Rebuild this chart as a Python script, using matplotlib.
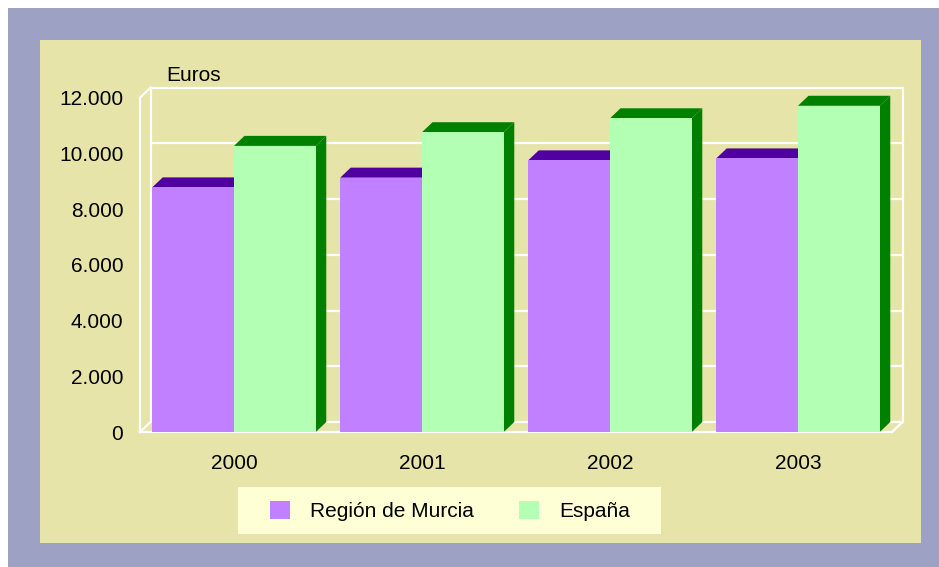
import matplotlib
matplotlib.use("Agg")
import matplotlib.pyplot as plt
from matplotlib.patches import Polygon, Rectangle
from matplotlib.ticker import FuncFormatter

# values (euros)
years = ["2000", "2001", "2002", "2003"]
murcia = [8780, 9130, 9750, 9820]
espana = [10270, 10760, 11260, 11710]
y_ticks = [0, 2000, 4000, 6000, 8000, 10000, 12000]
series_names = ["Región de Murcia", "España"]

plt.rcParams["font.family"] = ["Liberation Sans", "DejaVu Sans"]
FS = 15

W, H = 939, 567
fig = plt.figure(figsize=(W / 100, H / 100), dpi=100)
fig.patch.set_facecolor("white")

# outer frame and inner panel
fig.add_artist(Rectangle((8 / W, 0), 1, 1 - 8 / H, transform=fig.transFigure,
                         facecolor="#9da1c4", edgecolor="none", zorder=0))
fig.add_artist(Rectangle((40 / W, 24 / H), 881 / W, 503 / H, transform=fig.transFigure,
                         facecolor="#e6e4a8", edgecolor="none", zorder=0))

# pixel geometry of the pseudo-3D box
px_cat = 188.0          # px per category
px_val = 27.86 / 1000   # px per euro
DX, DY = 10.5, 10.0     # depth offset in px
left_px, zero_px = 140, 432
right_px = left_px + 4 * px_cat + DX
top_px = zero_px - 12000 * px_val - DY

ax = fig.add_axes([left_px / W, (H - zero_px) / H,
                   (right_px - left_px) / W, (zero_px - top_px) / H])
ax.set_xlim(0, (right_px - left_px) / px_cat)
ax.set_ylim(0, (zero_px - top_px) / px_val)
ax.patch.set_visible(False)
for s in ax.spines.values():
    s.set_visible(False)

dx = DX / px_cat
dy = DY / px_val
n = len(years)
wl = dict(color="white", lw=1.6, clip_on=False, zorder=1, solid_capstyle="projecting")

# back wall grid
for v in y_ticks:
    ax.plot([dx, n + dx], [v + dy, v + dy], **wl)
ax.plot([n + dx, n + dx], [dy, 12000 + dy], **wl)
# left wall
ax.plot([0, 0], [0, 12000], **wl)
ax.plot([dx, dx], [dy, 12000 + dy], **wl)
ax.plot([0, dx], [12000, 12000 + dy], **wl)
ax.plot([0, dx], [0, dy], **wl)
# floor
ax.plot([0, n], [0, 0], **wl)
ax.plot([n, n + dx], [0, dy], **wl)

# bars
w = 0.435
xs = list(range(n))
styles = [("#c080ff", "#5000a0"), ("#b3ffb3", "#008000")]
for k, vals in enumerate([murcia, espana]):
    front, dark = styles[k]
    lefts = [i + 0.5 - w + k * w for i in xs]
    bars = ax.bar(lefts, vals, width=w, align="edge", color=front,
                  edgecolor="none", zorder=3 + 2 * k, label=series_names[k])
    for x0, v in zip(lefts, vals):
        top = Polygon([(x0, v), (x0 + w, v), (x0 + w + dx, v + dy), (x0 + dx, v + dy)],
                      closed=True, facecolor=dark, edgecolor="none", zorder=2 + 2 * k)
        side = Polygon([(x0 + w, 0), (x0 + w, v), (x0 + w + dx, v + dy), (x0 + w + dx, dy)],
                       closed=True, facecolor=dark, edgecolor="none", zorder=2 + 2 * k)
        ax.add_patch(top)
        ax.add_patch(side)

# axes ticks
ax.set_xticks([i + 0.5 for i in xs])
ax.set_xticklabels(years)
ax.set_yticks(y_ticks)
ax.yaxis.set_major_formatter(FuncFormatter(lambda v, p: f"{int(v):,}".replace(",", ".")))
ax.tick_params(axis="both", length=0, labelsize=FS, colors="black")
ax.tick_params(axis="x", pad=15.5)
ax.tick_params(axis="y", pad=12)

fig.text(166 / W, 1 - 75.5 / H, "Euros", fontsize=FS, va="center", ha="left")

# legend box
fig.add_artist(Rectangle((238 / W, (H - 534) / H), 423 / W, 47 / H, transform=fig.transFigure,
                         facecolor="#ffffd6", edgecolor="none", zorder=1))
handles = [Rectangle((0, 0), 1, 1, facecolor=c[0], edgecolor="none") for c in styles]
leg = fig.legend(handles, series_names, loc="center left", ncol=2,
                 bbox_to_anchor=(262 / W, 1 - 511 / H), frameon=False, fontsize=FS,
                 borderaxespad=0, handlelength=0.96, handleheight=0.96,
                 handletextpad=0.96, columnspacing=2.16)
leg.set_zorder(2)

fig.savefig("out.png", dpi=100, facecolor=fig.get_facecolor())
